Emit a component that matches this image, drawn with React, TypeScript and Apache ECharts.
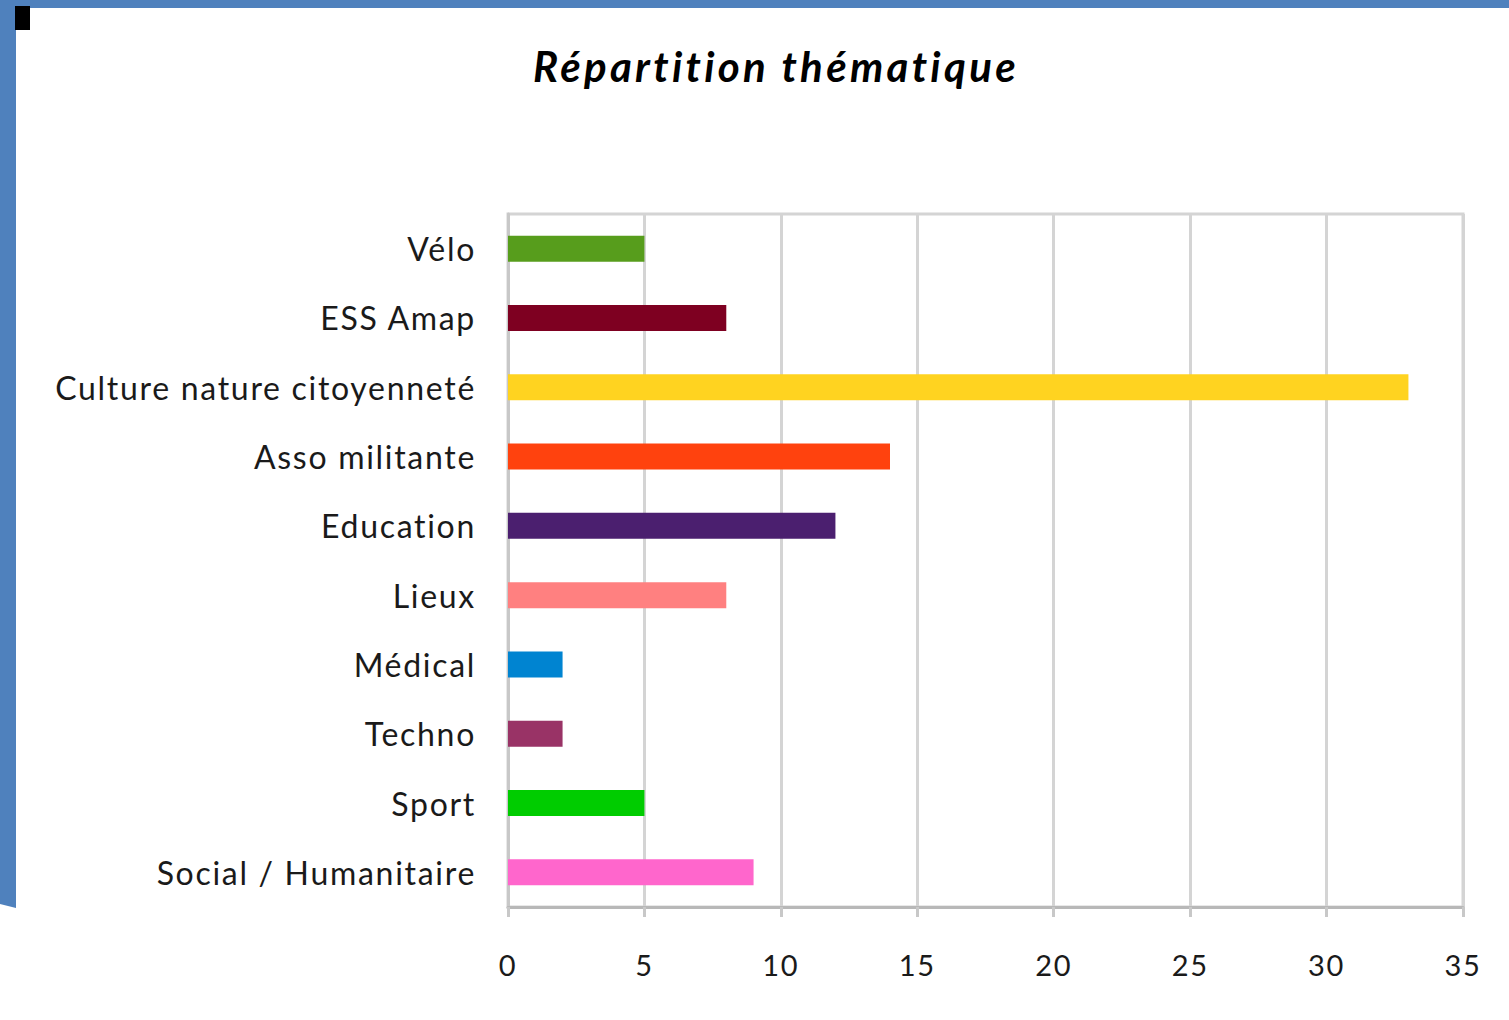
import React, { useEffect, useRef } from "react";
import * as echarts from "echarts";

const categories = [
  "Vélo",
  "ESS Amap",
  "Culture nature citoyenneté",
  "Asso militante",
  "Education",
  "Lieux",
  "Médical",
  "Techno",
  "Sport",
  "Social / Humanitaire",
];
const values = [5, 8, 33, 14, 12, 8, 2, 2, 5, 9];
const colors = [
  "#579d1c",
  "#7e0021",
  "#ffd320",
  "#ff420e",
  "#4b1f6f",
  "#ff8080",
  "#0084d1",
  "#993366",
  "#00cc00",
  "#ff66cc",
];
const title = "Répartition thématique";

const css = `
#root svg text { letter-spacing: 1.7px; }
#root svg text[style*="42px"] { letter-spacing: 3.3px; }
`;

export default function App() {
  const ref = useRef<HTMLDivElement>(null);
  useEffect(() => {
    document.body.style.margin = "0";
    const chart = echarts.init(ref.current!, null, { renderer: "svg" });
    const blue = "#4f81bd";
    chart.setOption({
      animation: false,
      backgroundColor: "#ffffff",
      title: {
        text: title,
        left: 771,
        top: 40,
        textAlign: "center",
        textStyle: {
          fontFamily: "Lato",
          fontStyle: "italic",
          fontWeight: "bold",
          fontSize: 42,
          color: "#000",
        },
      },
      grid: {
        left: 508,
        right: 46,
        top: 214,
        height: 693,
        show: true,
        borderColor: "#d4d4d4",
        borderWidth: 3,
        backgroundColor: "transparent",
      },
      xAxis: {
        type: "value",
        min: 0,
        max: 35,
        interval: 5,
        axisLine: { show: true, lineStyle: { color: "#b8b8b8", width: 3 } },
        axisTick: { show: true, length: 10, lineStyle: { color: "#c8c8c8", width: 3 } },
        splitLine: { show: true, lineStyle: { color: "#d4d4d4", width: 3 } },
        axisLabel: {
          margin: 43,
          fontFamily: "Lato",
          fontSize: 29,
          color: "#1a1a1a",
        },
      },
      yAxis: {
        type: "category",
        data: categories,
        inverse: true,
        axisLine: { show: true, lineStyle: { color: "#c8c8c8", width: 3 } },
        axisTick: { show: false },
        axisLabel: {
          margin: 32,
          fontFamily: "Lato",
          fontSize: 32,
          color: "#1a1a1a",
        },
      },
      series: [
        {
          type: "bar",
          data: values.map((v, i) => ({ value: v, itemStyle: { color: colors[i] } })),
          barWidth: 26,
        },
      ],
      graphic: [
        { type: "rect", shape: { x: 0, y: 0, width: 1509, height: 8 }, style: { fill: blue }, z: 100 },
        {
          type: "polygon",
          shape: { points: [[0, 0], [16, 0], [16, 908], [0, 904]] },
          style: { fill: blue },
          z: 100,
        },
        { type: "rect", shape: { x: 15, y: 6, width: 15, height: 24 }, style: { fill: "#000" }, z: 101 },
      ],
    });
    return () => chart.dispose();
  }, []);
  return (
    <>
      <style>{css}</style>
      <div ref={ref} style={{ width: 1509, height: 1020 }} />
    </>
  );
}
